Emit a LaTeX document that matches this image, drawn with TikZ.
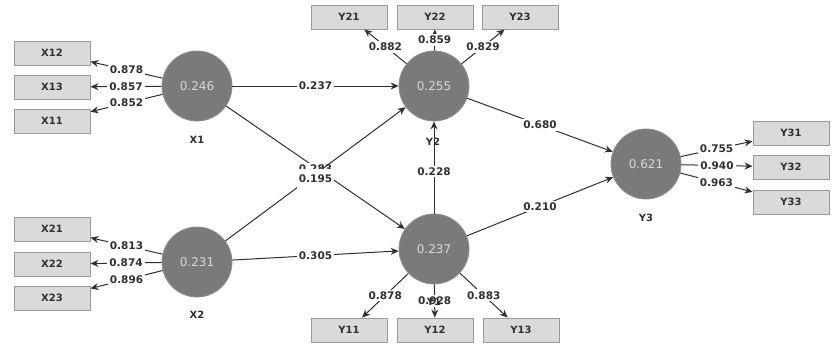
\documentclass[tikz,border=0pt]{standalone}
\usepackage{fontspec}
\setmainfont{DejaVu Sans}
\usepackage{tikz}
\usetikzlibrary{positioning,arrows.meta}
\definecolor{lvfill}{HTML}{7a7a7a}
\definecolor{lvedge}{HTML}{8e8e8e}
\definecolor{lvtext}{HTML}{d8d8d8}
\definecolor{mvfill}{HTML}{dadada}
\definecolor{mvedge}{HTML}{9a9a9a}
\definecolor{pathcol}{HTML}{303030}

\begin{document}
\begin{tikzpicture}[x=1pt,y=-1pt,
    latent/.style={circle,fill=lvfill,draw=lvedge,line width=0.8pt,minimum size=70pt,inner sep=0pt,text=lvtext,font=\fontsize{12}{13}\selectfont},
    manifest/.style={rectangle,fill=mvfill,draw=mvedge,line width=0.9pt,minimum width=76pt,minimum height=24pt,inner sep=0pt,text=pathcol,font=\fontsize{10}{12}\selectfont\bfseries},
    lvname/.style={text=pathcol,font=\fontsize{10}{12}\selectfont\bfseries},
    coef/.style={fill=white,inner sep=2pt,text=pathcol,font=\fontsize{10.5}{12}\selectfont\bfseries},
    link/.style={draw=pathcol,line width=1pt,-{Stealth[length=8pt,width=7pt]}}]
    \useasboundingbox (0,0) rectangle (836,351);

    % constructs
    \node[latent] (X1) at (197,86) {0.246};
    \node[latent] (X2) at (197,262) {0.231};
    \node[latent] (Y2) at (434,86) {0.255};
    \node[latent] (Y1) at (434,249) {0.237};
    \node[latent] (Y3) at (646,164) {0.621};

    % indicators
    \foreach \m/\x/\y in {X12/52/53,X13/52/87,X11/52/121,X21/52/229,X22/52/264,X23/52/298,
                          Y21/349/17,Y22/435/17,Y23/520/17,Y11/349/330,Y12/435/330,Y13/521/330,
                          Y31/791/133,Y32/791/167,Y33/791/202}
      \node[manifest] (\m) at (\x,\y) {\m};

    % outer loadings
    \foreach \m/\v in {X12/0.878,X13/0.857,X11/0.852}
      \draw[link] (X1) -- node[coef]{\v} (\m);
    \foreach \m/\v in {X21/0.813,X22/0.874,X23/0.896}
      \draw[link] (X2) -- node[coef]{\v} (\m);
    \foreach \m/\v in {Y21/0.882,Y22/0.859,Y23/0.829}
      \draw[link] (Y2) -- node[coef]{\v} (\m);
    \foreach \m/\v in {Y11/0.878,Y12/0.928,Y13/0.883}
      \draw[link] (Y1) -- node[coef]{\v} (\m);
    \foreach \m/\v in {Y31/0.755,Y32/0.940,Y33/0.963}
      \draw[link] (Y3) -- node[coef]{\v} (\m);

    % inner model
    \draw[link] (X1) -- node[coef]{0.237} (Y2);
    \draw[link] (X1) -- node[coef,yshift=-1pt]{0.283} (Y1);
    \draw[link] (X2) -- node[coef,yshift=-5pt,minimum height=21pt]{0.195} (Y2);
    \draw[link] (X2) -- node[coef]{0.305} (Y1);
    \draw[link] (Y1) -- node[coef,yshift=-4pt]{0.228} (Y2);
    \draw[link] (Y2) -- node[coef]{0.680} (Y3);
    \draw[link] (Y1) -- node[coef]{0.210} (Y3);

    % construct names
    \node[lvname] (X1n) at (197,140) {X1};
    \node[lvname] (X2n) at (197,315) {X2};
    \node[lvname] (Y2n) at (433,142) {Y2};
    \node[lvname] (Y1n) at (434,302) {Y1};
    \node[lvname] (Y3n) at (646,218) {Y3};
  \end{tikzpicture}
\end{document}
